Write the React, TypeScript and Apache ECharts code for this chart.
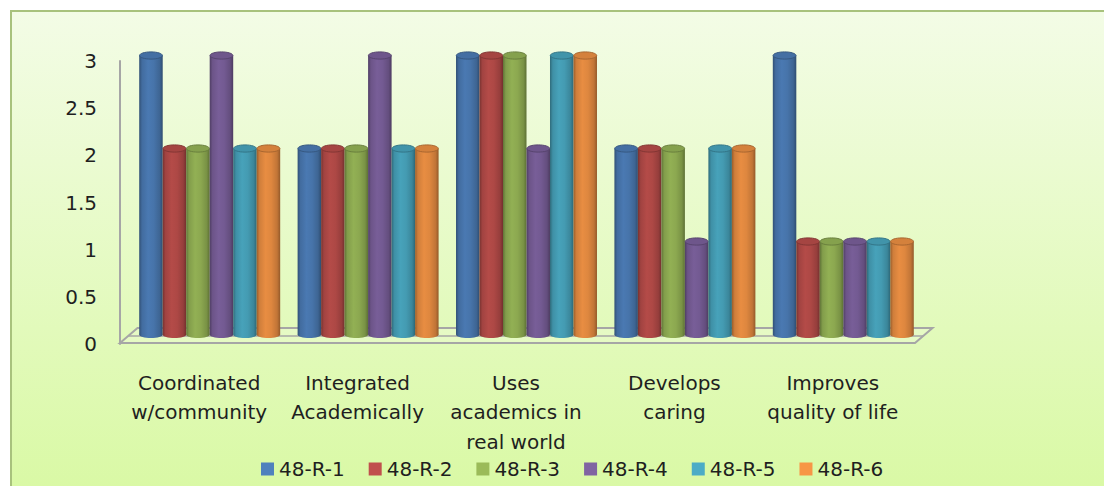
import React, { useEffect, useRef } from "react";
import * as echarts from "echarts";

const categories = [
  "Coordinated\nw/community",
  "Integrated\nAcademically",
  "Uses\nacademics in\nreal world",
  "Develops\ncaring",
  "Improves\nquality of life",
];
const seriesNames = ["48-R-1", "48-R-2", "48-R-3", "48-R-4", "48-R-5", "48-R-6"];
const r1 = [3, 2, 3, 2, 3];
const r2 = [2, 2, 3, 2, 1];
const r3 = [2, 2, 3, 2, 1];
const r4 = [3, 3, 2, 1, 1];
const r5 = [2, 2, 3, 2, 1];
const r6 = [2, 2, 3, 2, 1];
const seriesValues = [r1, r2, r3, r4, r5, r6];
const colors = ["#4f81bd", "#c0504d", "#9bbb59", "#8064a2", "#4bacc6", "#f79646"];
const yTicks = [0, 0.5, 1, 1.5, 2, 2.5, 3];

const FONT = "DejaVu Sans";

function shade(hex: string, f: number): string {
  const n = parseInt(hex.slice(1), 16);
  let r = (n >> 16) & 255, g = (n >> 8) & 255, b = n & 255;
  if (f <= 1) {
    r = r * f; g = g * f; b = b * f;
  } else {
    const t = f - 1;
    r = r + (255 - r) * t; g = g + (255 - g) * t; b = b + (255 - b) * t;
  }
  const h = (v: number) => Math.max(0, Math.min(255, Math.round(v))).toString(16).padStart(2, "0");
  return "#" + h(r) + h(g) + h(b);
}

// layout constants
const BAR_GRID = { left: 130.5, top: 55.5, width: 792, height: 279 };
const AXIS_GRID = { left: 120, top: 61, width: 792, height: 283 };

export default function App() {
  const ref = useRef<HTMLDivElement>(null);
  useEffect(() => {
    if (!ref.current) return;
    const chart = echarts.init(ref.current, undefined, { renderer: "svg" });
    const nSeries = seriesNames.length;

    const series = seriesNames.map((name, si) => {
      const c = colors[si];
      const grad = new echarts.graphic.LinearGradient(0, 0, 1, 0, [
        { offset: 0, color: shade(c, 0.62) },
        { offset: 0.12, color: shade(c, 0.84) },
        { offset: 0.38, color: shade(c, 0.94) },
        { offset: 0.62, color: shade(c, 0.9) },
        { offset: 0.87, color: shade(c, 0.78) },
        { offset: 1, color: shade(c, 0.6) },
      ]);
      return {
        type: "custom",
        name,
        xAxisIndex: 0,
        yAxisIndex: 0,
        encode: { x: 0, y: 1 },
        data: seriesValues[si].map((v, ci) => [ci, v]),
        renderItem: (params: any, api: any) => {
          const ci = api.value(0);
          const v = api.value(1);
          const top = api.coord([ci, v]);
          const base = api.coord([ci, 0]);
          const band = api.size([1, 0])[0];
          const w = (band * 0.89) / nSeries;
          const cx = top[0] + (si - (nSeries - 1) / 2) * w;
          const ry = 3.6;
          return {
            type: "group",
            children: [
              {
                type: "ellipse",
                shape: { cx, cy: base[1], rx: w / 2, ry },
                style: { fill: grad },
              },
              {
                type: "rect",
                shape: { x: cx - w / 2, y: top[1], width: w, height: base[1] - top[1] },
                style: { fill: grad },
              },
              {
                type: "ellipse",
                shape: { cx, cy: top[1], rx: w / 2 - 0.3, ry },
                style: { fill: shade(c, 0.86), stroke: shade(c, 0.68), lineWidth: 1 },
              },
            ],
          };
        },
      };
    });

    // decorative floor derived from the axis grid
    const fl = AXIS_GRID.left;
    const fb = AXIS_GRID.top + AXIS_GRID.height - 1;
    const fr = AXIS_GRID.left + AXIS_GRID.width + 3;
    const dx = 17.5, dy = 15;

    chart.setOption({
      animation: false,
      color: colors,
      grid: [
        { ...BAR_GRID, containLabel: false },
        { ...AXIS_GRID, containLabel: false },
      ],
      xAxis: [
        {
          type: "category",
          gridIndex: 0,
          data: categories,
          show: false,
        },
        {
          type: "category",
          gridIndex: 1,
          data: categories,
          axisLine: { show: false },
          axisTick: { show: false },
          axisLabel: {
            interval: 0,
            margin: 24,
            fontFamily: FONT,
            fontSize: 20,
            lineHeight: 29.5,
            color: "#1f1f1f",
          },
        },
      ],
      yAxis: [
        { type: "value", gridIndex: 0, min: 0, max: 3, show: false },
        {
          type: "value",
          gridIndex: 1,
          min: 0,
          max: 3,
          interval: 0.5,
          axisLine: { show: true, lineStyle: { color: "#a6a6a6", width: 2 } },
          axisTick: { show: false },
          splitLine: { show: false },
          axisLabel: {
            margin: 23,
            fontFamily: FONT,
            fontSize: 20,
            color: "#1f1f1f",
            formatter: (v: number) => (yTicks.includes(v) ? String(v) : ""),
          },
        },
      ],
      legend: {
        data: seriesNames,
        left: 256,
        top: 454,
        icon: "rect",
        itemWidth: 13,
        itemHeight: 13,
        itemGap: 24,
        textStyle: { fontFamily: FONT, fontSize: 20, color: "#1f1f1f" },
      },
      graphic: [
        {
          type: "rect",
          z: -10,
          silent: true,
          shape: { x: 11, y: 11, width: 1200, height: 600 },
          style: {
            fill: new echarts.graphic.LinearGradient(0, 0, 0, 1, [
              { offset: 0, color: "#f3fce6" },
              { offset: 0.81, color: "#d9f9a4" },
              { offset: 1, color: "#d4f797" },
            ]),
            stroke: "#a8c27d",
            lineWidth: 2,
          },
        },
        {
          type: "polygon",
          z: 0,
          silent: true,
          shape: {
            points: [
              [fl, fb],
              [fl + dx, fb - dy],
              [fr + dx, fb - dy],
              [fr, fb],
            ],
          },
          style: { fill: "rgba(255,255,255,0.15)", stroke: "#a6a6a6", lineWidth: 2 },
        },
        {
          type: "line",
          z: 0,
          silent: true,
          shape: { x1: fl + dx * 0.47, y1: fb - 7, x2: fr + dx * 0.47, y2: fb - 7 },
          style: { stroke: "#a6a6a6", lineWidth: 1.5 },
        },
      ],
      series,
    });
    return () => chart.dispose();
  }, []);
  return (
    <div
      ref={ref}
      style={{ position: "fixed", left: 0, top: 0, width: 1104, height: 486, background: "#ffffff" }}
    />
  );
}
